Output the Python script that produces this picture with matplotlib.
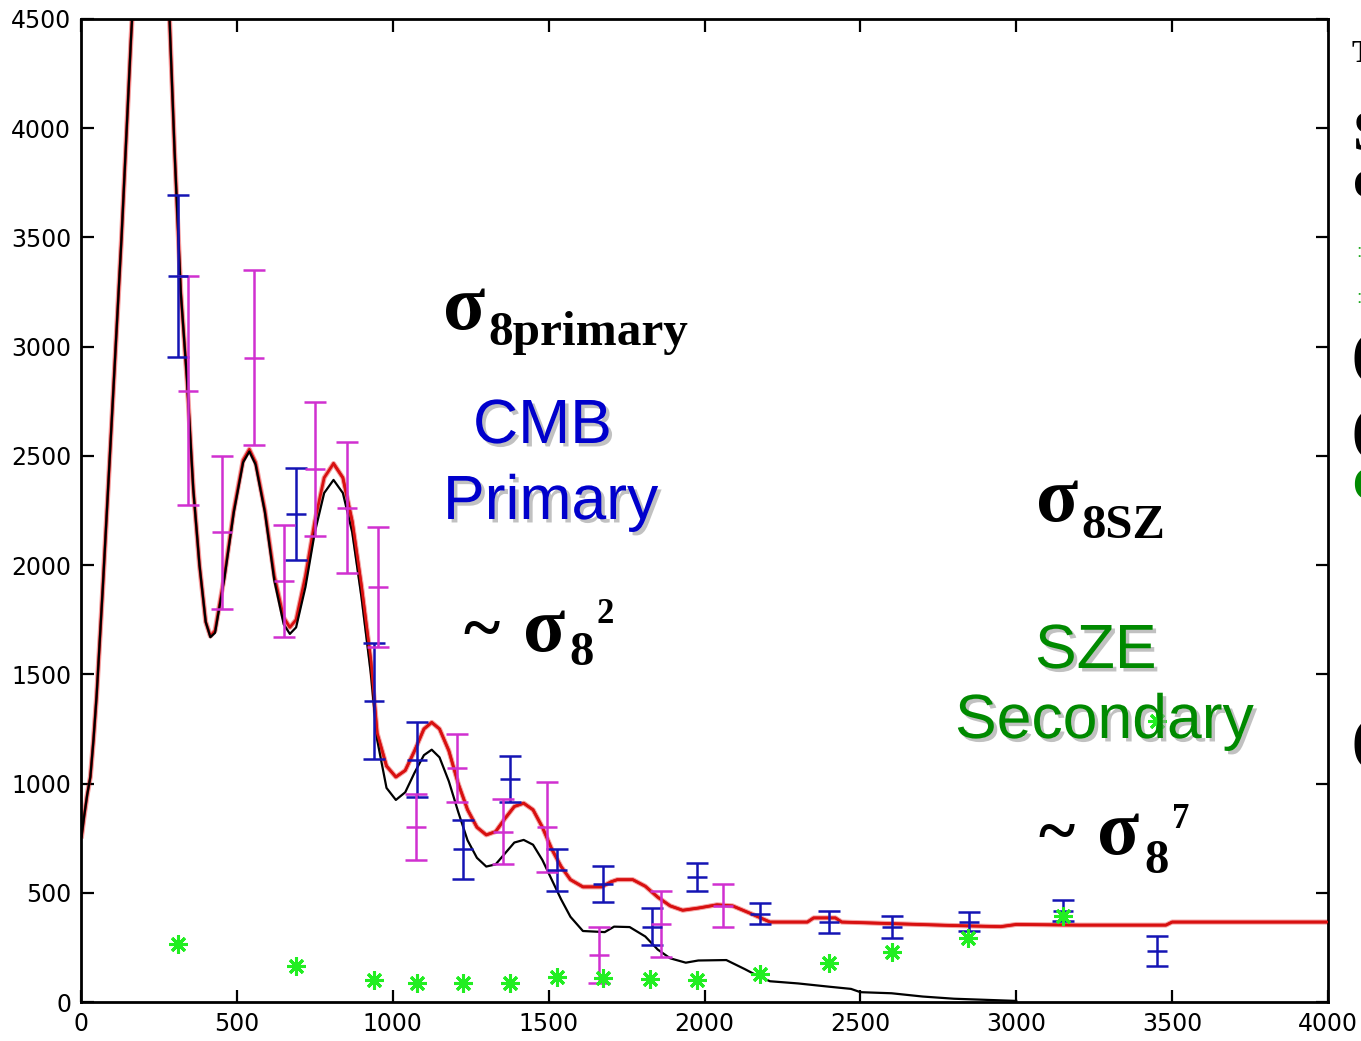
import matplotlib
matplotlib.use('Agg')
import matplotlib.pyplot as plt
import matplotlib.patheffects as pe

W, H = 1361, 1041

# theory curves (multipole l, power)
red_ell = [2, 10, 20, 30, 40, 50, 70, 100, 130, 160, 190, 220, 250, 280, 300, 320, 340, 360,
           380, 400, 415, 430, 460, 490, 520, 540, 560, 590, 620, 650, 670, 690, 720, 750, 780,
           810, 840, 870, 900, 930, 950, 980, 1010, 1040, 1070, 1100, 1125, 1150, 1180, 1210,
           1240, 1270, 1300, 1330, 1360, 1390, 1420, 1450, 1480, 1510, 1540, 1570, 1610, 1670,
           1700, 1720, 1770, 1810, 1850, 1890, 1930, 1980, 2040, 2090, 2140, 2180, 2210, 2330,
           2350, 2420, 2440, 2800, 2950, 3000, 3200, 3480, 3500, 4000]
red_val = [760, 850, 950, 1030, 1200, 1400, 1900, 2700, 3500, 4400, 5200, 5650, 5400, 4650,
           3900, 3250, 2850, 2350, 2000, 1740, 1675, 1700, 1950, 2250, 2480, 2530, 2470, 2250,
           1950, 1760, 1715, 1750, 1950, 2200, 2400, 2465, 2400, 2200, 1900, 1560, 1230, 1080,
           1030, 1060, 1150, 1250, 1280, 1250, 1150, 1000, 880, 800, 765, 780, 840, 895, 910,
           880, 800, 700, 620, 560, 527, 527, 550, 560, 560, 530, 480, 440, 420, 430, 445, 440,
           410, 385, 366, 366, 385, 385, 366, 350, 345, 355, 352, 352, 366, 366]

black_ell = [2, 10, 20, 30, 40, 50, 70, 100, 130, 160, 190, 220, 250, 280, 300, 320, 340, 360,
             380, 400, 415, 430, 460, 490, 520, 540, 560, 590, 620, 650, 670, 690, 720, 750, 780,
             810, 840, 870, 900, 930, 950, 980, 1010, 1040, 1070, 1100, 1125, 1150, 1180, 1210,
             1240, 1270, 1300, 1330, 1360, 1390, 1420, 1450, 1480, 1510, 1540, 1570, 1610, 1680,
             1710, 1760, 1810, 1850, 1890, 1940, 1980, 2070, 2130, 2170, 2210, 2300, 2400, 2470,
             2500, 2600, 2700, 2800, 2900, 3000]
black_val = [760, 850, 950, 1030, 1200, 1400, 1900, 2700, 3500, 4400, 5200, 5650, 5400, 4650,
             3900, 3250, 2850, 2350, 2000, 1740, 1670, 1690, 1940, 2240, 2470, 2520, 2460, 2240,
             1930, 1730, 1685, 1715, 1900, 2150, 2330, 2390, 2330, 2150, 1850, 1500, 1200, 980,
             925, 960, 1050, 1130, 1155, 1120, 1010, 870, 740, 660, 620, 630, 680, 730, 742, 720,
             650, 560, 470, 390, 325, 320, 345, 343, 300, 240, 200, 180, 190, 192, 150, 120, 95,
             85, 70, 60, 45, 40, 25, 15, 10, 5]

# blue data points
blue_ell = [311, 690, 940, 1078, 1225, 1375, 1528, 1675, 1830, 1976, 2178, 2400, 2600, 2848, 3150, 3451]
blue_val = [3324, 2234, 1378, 1110, 700, 1020, 605, 540, 345, 572, 405, 368, 343, 368, 418, 234]
blue_err = [370, 210, 267, 170, 135, 105, 95, 82, 85, 64, 46, 50, 50, 44, 47, 68]

# magenta data points
mag_ell = [343, 452, 555, 651, 751, 853, 953, 1075, 1206, 1353, 1495, 1662, 1860, 2059]
mag_val = [2798, 2150, 2950, 1928, 2440, 2262, 1900, 800, 1072, 780, 800, 215, 357, 440]
mag_err = [525, 350, 400, 256, 305, 300, 275, 150, 155, 150, 205, 130, 150, 98]

# green SZ points
sz_ell = [311, 690, 940, 1078, 1225, 1376, 1527, 1675, 1825, 1976, 2178, 2400, 2600, 2845, 3150, 3451]
sz_val = [266, 165, 101, 87, 87, 87, 114, 110, 105, 101, 130, 179, 229, 295, 395, 1285]

fig = plt.figure(figsize=(W / 100, H / 100), dpi=100)
ax = fig.add_axes([81 / W, (H - 1002) / H, (1328 - 81) / W, (1002 - 19) / H])

ax.plot(red_ell, red_val, color='#f4a0a0', lw=3.6, zorder=1)
ax.plot(red_ell, red_val, color='#d81010', lw=2.0, zorder=2)
ax.plot(black_ell, black_val, color='black', lw=1.6, zorder=3)
ax.plot(red_ell[35:], red_val[35:], color='#d81010', lw=1.8, zorder=4)

ax.errorbar(blue_ell, blue_val, yerr=blue_err, fmt='_', color='#1414b4', ms=15, mew=1.8,
            elinewidth=1.8, capsize=8, capthick=1.8, zorder=5)
ax.errorbar(mag_ell, mag_val, yerr=mag_err, fmt='_', color='#d030d0', ms=15, mew=1.8,
            elinewidth=1.8, capsize=8, capthick=1.8, zorder=5)
ax.plot(sz_ell, sz_val, ls='none', marker=(8, 2, 0), ms=13, mew=2.2, color='#22ee22', zorder=6)

ax.set_xlim(0, 4000)
ax.set_ylim(0, 4500)
ax.set_xticks(range(0, 4001, 500))
ax.set_yticks(range(0, 4501, 500))
ax.tick_params(direction='in', length=9, width=1.6, top=True, right=True, labelsize=17, pad=7)
for s in ax.spines.values():
    s.set_linewidth(2)


def ftext(px, py, s, **kw):
    fig.text(px / W, 1 - py / H, s, ha='left', va='baseline', **kw)


serif = dict(family='Liberation Serif', weight='bold', color='black')
shadow = [pe.SimplePatchShadow(offset=(2.5, -2.5), shadow_rgbFace='0.6', alpha=0.6), pe.Normal()]
sans_blue = dict(family='Liberation Sans', color='#0000cc', fontsize=45, path_effects=shadow)
sans_green = dict(family='Liberation Sans', color='#008a00', fontsize=45, path_effects=shadow)

ftext(443, 329, 'σ', fontsize=56, **serif)
ftext(488, 345, '8primary', fontsize=35.5, **serif)
ftext(473, 443, 'CMB', **sans_blue)
ftext(443, 519, 'Primary', **sans_blue)
ftext(463, 650, '~', fontsize=50, **serif)
ftext(523, 651, 'σ', fontsize=56, **serif)
ftext(569, 665, '8', fontsize=35, **serif)
ftext(597, 623, '2', fontsize=25, **serif)

ftext(1036, 521, 'σ', fontsize=56, **serif)
ftext(1081, 538, '8SZ', fontsize=35, **serif)
ftext(1035, 668, 'SZE', **sans_green)
ftext(955, 738, 'Secondary', **sans_green)
ftext(1038, 853, '~', fontsize=50, **serif)
ftext(1097, 854, 'σ', fontsize=56, **serif)
ftext(1144, 873, '8', fontsize=35, **serif)
ftext(1172, 828, '7', fontsize=25, **serif)

# clipped text at the right edge of the slide
ftext(1352, 62, 'T', fontsize=22, **serif)
ftext(1353, 150, 'S', fontsize=42, **serif)
ftext(1353, 198, 'c', fontsize=42, **serif)
ftext(1356, 257, ':', fontsize=14, family='Liberation Sans', color='#22aa22')
ftext(1356, 303, ':', fontsize=14, family='Liberation Sans', color='#22aa22')
ftext(1352, 372, '(', fontsize=40, **serif)
ftext(1352, 448, '(', fontsize=40, **serif)
ftext(1352, 500, 'C', fontsize=34, family='Liberation Sans', weight='bold', color='#008a00')
ftext(1352, 758, '(', fontsize=40, **serif)

fig.savefig('out.png', dpi=100)
